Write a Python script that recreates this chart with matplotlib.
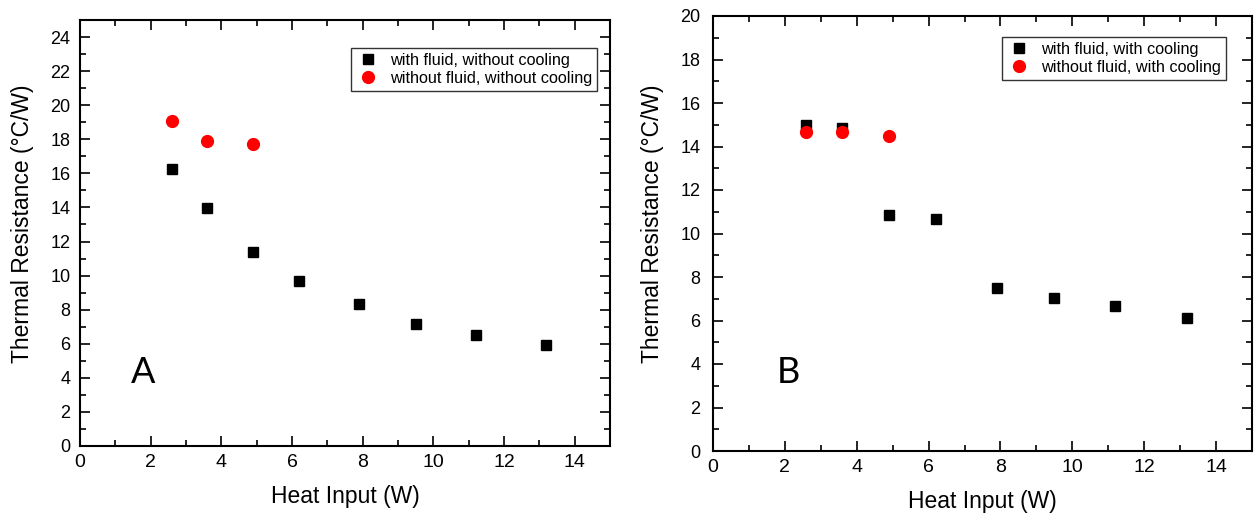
import matplotlib
matplotlib.use("Agg")
import matplotlib.pyplot as plt
from matplotlib.ticker import MultipleLocator

plt.rcParams['font.family'] = ['Liberation Sans', 'DejaVu Sans']

# Panel A
heat_a = [2.6, 3.6, 4.9, 6.2, 7.9, 9.5, 11.2, 13.2]
res_fluid_nocool = [16.28, 13.97, 11.37, 9.67, 8.32, 7.18, 6.52, 5.95]
heat_a_red = [2.6, 3.6, 4.9]
res_nofluid_nocool = [19.08, 17.87, 17.73]

# Panel B
heat_b = [2.6, 3.6, 4.9, 6.2, 7.9, 9.5, 11.2, 13.2]
res_fluid_cool = [14.97, 14.85, 10.86, 10.66, 7.48, 7.03, 6.68, 6.12]
heat_b_red = [2.6, 3.6, 4.9]
res_nofluid_cool = [14.66, 14.65, 14.49]

W, H = 1254, 513
fig = plt.figure(figsize=(W/100, H/100), dpi=100)

def px_axes(l, t, r, b):
    return fig.add_axes([l/W, 1-b/H, (r-l)/W, (b-t)/H])

axA = px_axes(80, 20, 610, 446)
axB = px_axes(713, 16, 1252, 451)

def style(ax, ymax, ypad, ylab_x, ylab_y, xlab_y):
    ax.set_xlim(0, 15)
    ax.set_ylim(0, ymax)
    ax.xaxis.set_major_locator(MultipleLocator(2))
    ax.xaxis.set_minor_locator(MultipleLocator(1))
    ax.yaxis.set_major_locator(MultipleLocator(2))
    ax.yaxis.set_minor_locator(MultipleLocator(1))
    ax.tick_params(which='both', direction='in', top=True, right=True,
                   labeltop=False, labelright=False, width=1.2)
    ax.tick_params(which='major', length=7)
    ax.tick_params(which='minor', length=4)
    ax.tick_params(axis='x', which='major', labelsize=14, pad=6)
    ax.tick_params(axis='y', which='major', labelsize=13, pad=ypad)
    for s in ax.spines.values():
        s.set_linewidth(1.5)
    ax.set_xlabel('Heat Input (W)', fontsize=16.5)
    ax.set_ylabel('Thermal Resistance (\u00b0C/W)', fontsize=16.5)
    ax.yaxis.set_label_coords(ylab_x, ylab_y)
    ax.xaxis.set_label_coords(0.5, xlab_y)

axA.plot(heat_a, res_fluid_nocool, 's', color='black', ms=7.5, linestyle='none',
         label='with fluid, without cooling')
axA.plot(heat_a_red, res_nofluid_nocool, 'o', color='red', ms=8.5, linestyle='none',
         label='without fluid, without cooling')
style(axA, 25, 7, -0.0868, 0.522, -0.0915)
axA.text(1.8, 4.3, 'A', fontsize=26, family='Lato', ha='center', va='center')
legA = axA.legend(loc='upper right', bbox_to_anchor=(0.975, 0.935), fontsize=11.7,
                  frameon=True, fancybox=False, edgecolor='black', borderpad=0.3,
                  handletextpad=0.6, labelspacing=0.2, handlelength=1.5,
                  borderaxespad=0)
legA.get_frame().set_linewidth(1.0)

axB.plot(heat_b, res_fluid_cool, 's', color='black', ms=7.5, linestyle='none',
         label='with fluid, with cooling')
axB.plot(heat_b_red, res_nofluid_cool, 'o', color='red', ms=8.5, linestyle='none',
         label='without fluid, with cooling')
style(axB, 20, 9, -0.091, 0.523, -0.0897)
axB.text(2.1, 3.6, 'B', fontsize=26, family='Lato', ha='center', va='center')
legB = axB.legend(loc='upper right', bbox_to_anchor=(0.952, 0.952), fontsize=11.7,
                  frameon=True, fancybox=False, edgecolor='black', borderpad=0.3,
                  handletextpad=0.6, labelspacing=0.2, handlelength=1.5,
                  borderaxespad=0)
legB.get_frame().set_linewidth(1.0)

fig.savefig('out.png', dpi=100)
